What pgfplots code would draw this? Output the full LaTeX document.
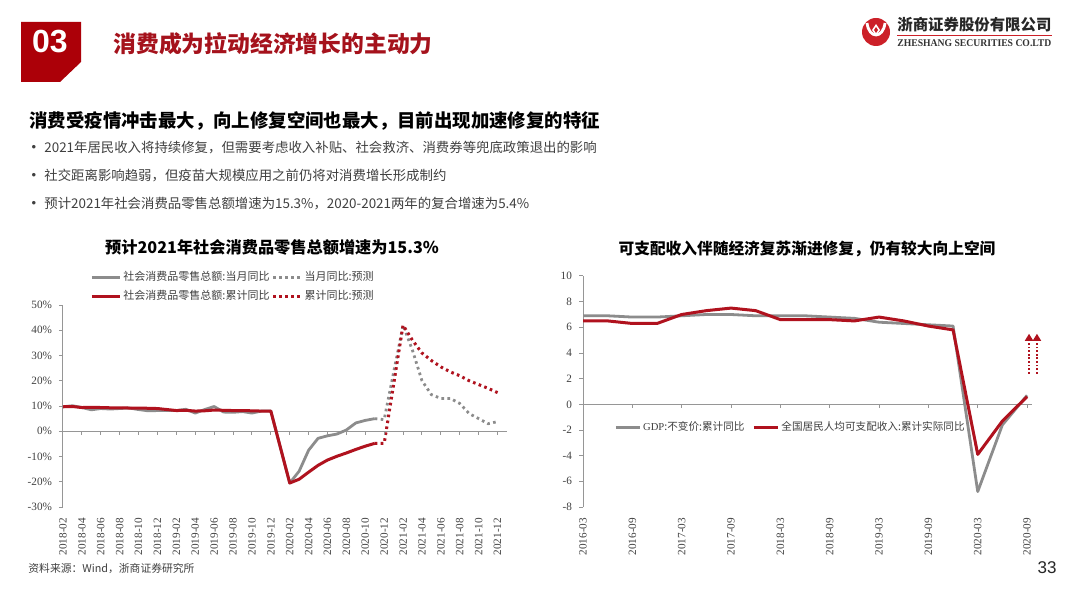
\documentclass[border=0pt]{standalone}
\usepackage{fontspec}
\usepackage{pgfplots}
\pgfplotsset{compat=1.18}
\usetikzlibrary{arrows.meta}
\setmainfont{Liberation Sans}
\newfontfamily\cjk{Noto Sans CJK SC}
\newfontfamily\tnr{Liberation Serif}
\definecolor{boxred}{RGB}{172,0,8}
\definecolor{ttred}{RGB}{165,18,28}
\definecolor{lred}{RGB}{176,18,30}
\definecolor{logored}{RGB}{204,32,40}
\definecolor{lgray}{RGB}{140,140,140}
\definecolor{axgray}{RGB}{150,150,150}
\definecolor{txt}{RGB}{64,64,64}

\pgfplotsset{
  zs/.style={
    scale only axis,
    anchor=south west,
    axis x line*=bottom,
    axis y line*=left,
    x axis line style={draw=none},
    y axis line style={axgray, line width=0.5pt},
    xtick style={draw=none},
    ytick style={axgray, line width=0.5pt},
    tick align=outside,
    major tick length=2pt,
    every tick label/.append style={font=\tnr\fontsize{5.6}{6}\selectfont, text=txt},
    xticklabel style={rotate=90, anchor=east},
    extra y ticks={0},
    extra y tick labels={},
    extra y tick style={grid=major, major grid style={axgray, line width=0.6pt}, major tick length=0pt},
    legend style={draw=none, fill=none, inner sep=0pt, text=txt,
      font=\cjk\fontsize{5.5}{6}\selectfont, nodes={inner sep=1pt}},
    clip=false,
  },
  gsolid/.style={draw=lgray, line width=1.4pt, line join=round},
  gdot/.style={draw=lgray, line width=1.4pt, dash pattern=on 1.3pt off 1.7pt},
  rsolid/.style={draw=lred, line width=1.5pt, line join=round},
  rdot/.style={draw=lred, line width=1.5pt, dash pattern=on 1.3pt off 1.7pt},
}

\begin{document}
\begin{tikzpicture}
\path[use as bounding box, fill=white] (0,0) rectangle (540pt,-304pt);

\begin{scope}[x=0.5pt, y=-0.5pt]
% header
\fill[boxred] (21,22) -- (81,22) -- (81,62) -- (60,82) -- (21,82) -- cycle;
\node[white, font=\bfseries\fontsize{16}{16}\selectfont] at (50,42) {03};
\node[anchor=west, text=ttred, inner sep=0pt, font=\cjk\bfseries\fontsize{11.4}{12}\selectfont] at (113,44) {消费成为拉动经济增长的主动力};
% logo
\fill[logored] (876,32) circle (14);
\draw[white, line width=1.4pt] (867,23) .. controls (869,39) and (883,39) .. (885,23);
\fill[white] (876,24) -- (880,30) -- (876,36) -- (872,30) -- cycle;
\fill[logored] (876,27) -- (878,30) -- (876,33) -- (874,30) -- cycle;
\node[anchor=west, inner sep=0pt, text=black!85, font=\cjk\bfseries\fontsize{7.7}{8}\selectfont] at (897,25) {浙商证券股份有限公司};
\draw[logored, line width=0.6pt] (897,35.5) -- (1052,35.5);
\node[anchor=west, inner sep=0pt, text=black!80] at (897,43) {\resizebox{77pt}{3.4pt}{\tnr\bfseries ZHESHANG SECURITIES CO.LTD}};
% subtitle and bullets
\node[anchor=west, inner sep=0pt, font=\cjk\bfseries\fontsize{9.2}{10}\selectfont] at (29,121) {消费受疫情冲击最大，向上修复空间也最大，目前出现加速修复的特征};
\foreach \yy/\tt in {148/{2021年居民收入将持续修复，但需要考虑收入补贴、社会救济、消费券等兜底政策退出的影响},
  176/{社交距离影响趋弱，但疫苗大规模应用之前仍将对消费增长形成制约},
  204/{预计2021年社会消费品零售总额增速为15.3\%，2020-2021两年的复合增速为5.4\%}}{
  \node[text=txt, inner sep=0pt, font=\fontsize{6.5}{7}\selectfont] at (34,\yy) {•};
  \node[anchor=west, inner sep=0pt, text=txt, font=\cjk\fontsize{6.7}{7}\selectfont] at (44,\yy) {\tt};
}
% chart titles
\node[inner sep=0pt, font=\cjk\bfseries\fontsize{8.1}{9}\selectfont] at (272,247) {预计2021年社会消费品零售总额增速为15.3\%};
\node[inner sep=0pt, font=\cjk\bfseries\fontsize{7.85}{9}\selectfont] at (807,249) {可支配收入伴随经济复苏渐进修复，仍有较大向上空间};
% footer
\node[anchor=west, inner sep=0pt, text=txt, font=\cjk\fontsize{5.4}{6}\selectfont] at (28,569) {资料来源：Wind，浙商证券研究所};
\node[inner sep=0pt, text=black!85, font=\fontsize{8.5}{9}\selectfont] at (1047,568) {33};
\end{scope}

% left chart: retail sales growth, month index 0 = 2018-02
\begin{axis}[zs,
  at={(31.5pt,-253.5pt)}, width=222pt, height=101pt,
  xmin=0, xmax=47, ymin=-30, ymax=50,
  ytick={-30,-20,...,50},
  yticklabel={\pgfmathparse{int(\tick)}\pgfmathresult\%},
  xtick={0,2,...,46},
  xticklabels={2018-02,2018-04,2018-06,2018-08,2018-10,2018-12,2019-02,2019-04,2019-06,2019-08,2019-10,2019-12,2020-02,2020-04,2020-06,2020-08,2020-10,2020-12,2021-02,2021-04,2021-06,2021-08,2021-10,2021-12},
  legend columns=2,
  legend style={at={(0.061,1.0)}, anchor=south west, row sep=1.5pt},
  legend image code/.code={\draw[#1] (0pt,0pt) -- (14pt,0pt);},
]
\addplot[gsolid] coordinates {
(0,9.7)(1,10.1)(2,9.4)(3,8.5)(4,9.0)(5,8.8)(6,9.0)(7,9.2)(8,8.6)(9,8.1)(10,8.2)
(12,8.2)(13,8.7)(14,7.2)(15,8.6)(16,9.8)(17,7.6)(18,7.5)(19,7.8)(20,7.2)(21,8.0)(22,8.0)
(24,-20.5)(25,-15.8)(26,-7.5)(27,-2.8)(28,-1.8)(29,-1.1)(30,0.5)(31,3.3)(32,4.3)(33,5.0)};
\addlegendentry{社会消费品零售总额:当月同比}
\addplot[gdot] coordinates {
(33,5.0)(34,4.6)(36,42)(37,32)(38,20)(39,14.5)(40,13)(41,13)(42,11)(43,7)(44,5)(45,3)(46,3.8)};
\addlegendentry{当月同比:预测}
\addplot[rsolid] coordinates {
(0,9.7)(1,9.8)(2,9.4)(3,9.5)(4,9.4)(5,9.3)(6,9.3)(7,9.2)(8,9.2)(9,9.1)(10,9.0)
(12,8.2)(13,8.3)(14,8.0)(15,8.1)(16,8.4)(17,8.3)(18,8.2)(19,8.2)(20,8.1)(21,8.0)(22,8.0)
(24,-20.5)(25,-19.0)(26,-16.2)(27,-13.5)(28,-11.4)(29,-9.9)(30,-8.6)(31,-7.2)(32,-5.9)(33,-4.8)};
\addlegendentry{社会消费品零售总额:累计同比}
\addplot[rdot] coordinates {
(33,-4.8)(34,-4.8)(36,42)(37,36)(38,31)(39,28)(40,25.5)(41,23.5)(42,22)(43,20)(44,18.5)(45,17)(46,15.3)};
\addlegendentry{累计同比:预测}
\pgfplotsinvokeforeach{0,2,...,46}{\draw[axgray, line width=0.5pt] (axis cs:#1,0) -- ++(0pt,-2pt);}
\end{axis}

% right chart: GDP and disposable income, quarter index 0 = 2016-03
\begin{axis}[zs,
  at={(291.5pt,-253.5pt)}, width=224.5pt, height=115.5pt,
  xmin=0, xmax=18.2, ymin=-8, ymax=10,
  ytick={-8,-6,...,10},
  yticklabel={\pgfmathparse{int(\tick)}\pgfmathresult},
  xtick={0,2,...,18},
  xticklabels={2016-03,2016-09,2017-03,2017-09,2018-03,2018-09,2019-03,2019-09,2020-03,2020-09},
  legend columns=2,
  legend style={at={(0.069,0.344)}, anchor=west, font=\cjk\fontsize{5.3}{6}\selectfont,
    /tikz/every even column/.append style={column sep=3pt}},
  legend image code/.code={\draw[#1] (0pt,0pt) -- (12pt,0pt);},
]
\addplot[gsolid] coordinates {
(0,6.9)(1,6.9)(2,6.8)(3,6.8)(4,6.9)(5,7.0)(6,7.0)(7,6.9)(8,6.9)(9,6.9)
(10,6.8)(11,6.7)(12,6.4)(13,6.3)(14,6.2)(15,6.1)(16,-6.8)(17,-1.6)(18,0.7)};
\addlegendentry{{\tnr GDP}:不变价:累计同比}
\addplot[rsolid] coordinates {
(0,6.5)(1,6.5)(2,6.3)(3,6.3)(4,7.0)(5,7.3)(6,7.5)(7,7.3)(8,6.6)(9,6.6)
(10,6.6)(11,6.5)(12,6.8)(13,6.5)(14,6.1)(15,5.8)(16,-3.9)(17,-1.3)(18,0.6)};
\addlegendentry{全国居民人均可支配收入:累计实际同比}
\pgfplotsinvokeforeach{0,2,...,18}{\draw[axgray, line width=0.5pt] (axis cs:#1,0) -- ++(0pt,-2pt);}
\draw[lred, line width=1pt, dash pattern=on 0.9pt off 0.9pt, -{Triangle[length=3.5pt,width=4pt]}] (axis cs:18.08,2.4) -- (axis cs:18.08,5.5);
\draw[lred, line width=1pt, dash pattern=on 0.9pt off 0.9pt, -{Triangle[length=3.5pt,width=4pt]}] (axis cs:18.4,2.4) -- (axis cs:18.4,5.5);
\end{axis}
\end{tikzpicture}
\end{document}
